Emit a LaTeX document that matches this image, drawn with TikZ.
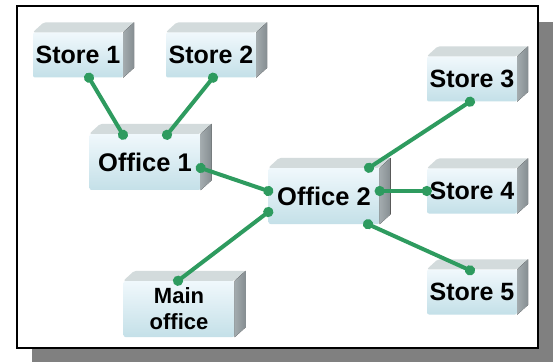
\documentclass[tikz,border=0pt]{standalone}
\usepackage{fontspec}
\setmainfont{Liberation Sans}
\usepackage{xcolor}
\usepackage{tikz}
\usetikzlibrary{arrows.meta}

\definecolor{linkgreen}{HTML}{2E9B5F}
\definecolor{facetop}{HTML}{D3DBDC}
\definecolor{sidelight}{HTML}{A3ABAE}
\definecolor{sidedark}{HTML}{858D91}
\definecolor{frontup}{HTML}{F0F8FC}
\definecolor{frontdown}{HTML}{C4E0E8}
\definecolor{shadowgray}{HTML}{808080}

\tikzset{
  site/.style={minimum width=90pt, minimum height=45pt, inner sep=0pt,
    top color=frontup, bottom color=frontdown, rounded corners=2pt,
    font=\bfseries\fontsize{25}{26}\selectfont},
  hub/.style={site, minimum width=111pt, minimum height=56pt,
    font=\bfseries\fontsize{25.5}{26}\selectfont},
  link/.style={line width=4pt, draw=linkgreen,
    {Circle[length=10pt]}-{Circle[length=10pt]},
    shorten <=-5pt, shorten >=-5pt}
}

\begin{document}
\begin{tikzpicture}[x=1pt,y=1pt]
      \useasboundingbox (0,0) rectangle (557,362);
      % frame
      \fill[shadowgray] (32,0) rectangle (553,340);
      \draw[fill=white, line width=1.5pt] (17,14) rectangle (538,356);
      % sites
      \node[site] (s1) at (78,307) {Store 1};
      \node[site] (s2) at (211,307) {Store 2};
      \node[site] (s3) at (472,283) {Store 3};
      \node[site] (s4) at (472,171) {Store 4};
      \node[site] (s5) at (472,70) {Store 5};
      \node[hub] (o1) at (145,200) {Office 1};
      \node[hub] (o2) at (324,166) {Office 2};
      \node[hub, align=center, font=\bfseries\fontsize{22}{26}\selectfont]
        (mo) at (179,53) {Main\\office};
      \foreach \n in {s1,s2,s3,s4,s5,o1,o2,mo} {
        \fill[facetop, rounded corners=2pt] (\n.north west) -- ++(11,10)
          -- ([shift={(11,10)}]\n.north east) -- (\n.north east) -- cycle;
        \fill[left color=sidelight, right color=sidedark] (\n.north east)
          -- ++(11,10) -- ([shift={(11,10)}]\n.south east) -- (\n.south east) -- cycle;
      }
      % links
      \draw[link] ([xshift=11pt]s1.south) -- ([xshift=-22pt,yshift=-1pt]o1.north);
      \draw[link] ([xshift=2pt]s2.south) -- ([xshift=22pt,yshift=-1pt]o1.north);
      \draw[link] ([yshift=-6pt]o1.east) -- ([yshift=5pt]o2.west);
      \draw[link] ([xshift=45pt]o2.north) -- ([xshift=-2pt]s3.south);
      \draw[link] ([yshift=5pt]o2.east) -- (s4.west);
      \draw[link] ([xshift=44pt]o2.south) -- ([xshift=-2pt,yshift=-1pt]s5.north);
      \draw[link] ([yshift=-16pt]o2.west) -- ([xshift=-1pt]mo.north);
    \end{tikzpicture}
\end{document}
